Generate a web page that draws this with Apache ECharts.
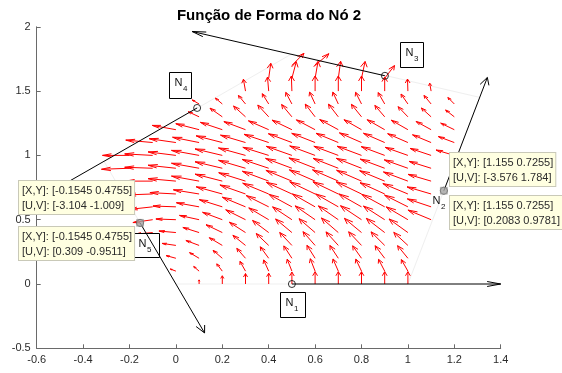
<!DOCTYPE html>
<html>
<head>
<meta charset="utf-8">
<script src="https://cdn.jsdelivr.net/npm/echarts@6/dist/echarts.min.js"></script>
<style>
html,body{margin:0;padding:0;background:#ffffff;}
#chart{width:562px;height:373px;}
</style>
</head>
<body>
<div id="chart"></div>
<script>
// ---------------- data ----------------
const chartTitle = 'Função de Forma do Nó 2';
const xMin = -0.6, xMax = 1.4, xStep = 0.2;
const yMin = -0.5, yMax = 2, yStep = 0.5;

// quiver grid: one entry per row (y value, first x value), spacing 0.1
const gridStep = 0.1;
const rowY  = [0, 0.1, 0.2, 0.3, 0.4, 0.5, 0.6, 0.7, 0.8, 0.9, 1.0, 1.1, 1.2, 1.3, 1.4, 1.5, 1.6, 1.7];
const rowX0 = [0, 0, 0, 0, -0.1, -0.1, -0.1, -0.2, -0.2, -0.2, -0.2, -0.1, 0, 0.1, 0.1, 0.3, 0.4, 0.5];
const quiverU = [
  [0,0,0,0,0,0,0,0,0,0,0],
  [-0.84,-0.80,-0.82,-0.82,-0.75,-0.70,-0.72,-0.79,-0.85,-0.91,-0.97],
  [-1.44,-1.42,-1.37,-1.29,-1.25,-1.20,-1.21,-1.25,-1.31,-1.42,-1.53],
  [-2.06,-1.96,-1.93,-1.87,-1.85,-1.81,-1.79,-1.82,-1.91,-2.03,-2.10],
  [-2.52,-2.52,-2.41,-2.42,-2.39,-2.40,-2.42,-2.39,-2.50,-2.54,-2.73,-2.80],
  [-2.94,-2.97,-2.91,-2.93,-2.94,-2.96,-2.87,-2.96,-2.96,-3.12,-3.15,-3.22,-3.44],
  [-3.40,-3.41,-3.37,-3.41,-3.44,-3.34,-3.41,-3.38,-3.38,-3.38,-3.41,-3.47,-3.53],
  [-3.53,-3.71,-3.86,-3.82,-3.88,-3.80,-3.86,-3.80,-3.77,-3.77,-3.77,-3.67,-3.72,-3.57],
  [-4.00,-4.01,-4.14,-4.10,-4.04,-3.98,-3.91,-3.86,-3.83,-3.83,-3.70,-3.72,-3.63,-3.43],
  [-4.16,-4.16,-4.14,-4.10,-4.05,-4.00,-3.96,-3.91,-3.89,-3.75,-3.75,-3.63,-3.51,-3.27],
  [-4.01,-4.16,-4.13,-4.10,-4.05,-4.02,-3.84,-3.80,-3.77,-3.63,-3.63,-3.49,-3.37,-3.11,-2.71],
  [-4.00,-3.97,-3.94,-3.89,-3.71,-3.67,-3.49,-3.47,-3.31,-3.28,-3.15,-3.01,-2.76,-2.37],
  [-3.51,-3.46,-3.25,-3.21,-3.01,-2.96,-2.78,-2.76,-2.60,-2.60,-2.47,-2.23,-2.02],
  [-1.62,-1.83,-1.77,-1.62,-1.53,-1.46,-1.46,-1.50,-1.46,-1.45,-1.44,-1.29],
  [-1.03,-1.02,-1.05,-0.95,-0.91,-0.82,-0.82,-0.88,-0.97,-1.02,-1.05,-0.95],
  [-0.31,-0.18,-0.08,0,0,0,0,-0.06,-0.21],
  [0.31,0.65,0.44,0.35,0.53,1.46],
  [1.79,2.05]
];
const quiverV = [
  [0,1.1,2.2,2.8,2.9,3.2,3.3,3.3,3.3,3.3,3.3],
  [0.57,1.24,1.95,2.62,3.0,3.19,3.32,3.27,3.22,3.16,3.10],
  [0.71,1.52,2.13,2.66,3.08,3.31,3.47,3.43,3.34,3.36,3.38],
  [0.54,1.32,2.07,2.72,3.19,3.47,3.68,3.63,3.66,3.64,3.50],
  [-0.41,0.41,1.37,2.10,2.77,3.24,3.64,3.72,3.90,3.81,3.81,3.64],
  [-0.77,0.19,1.15,1.98,2.65,3.17,3.45,3.70,3.70,3.75,3.65,3.44,2.58],
  [-0.67,0.22,1.10,1.93,2.58,3.02,3.36,3.47,3.47,3.47,3.36,3.14,2.13],
  [-0.92,-0.24,0.37,1.12,1.93,2.42,2.89,3.14,3.26,3.26,3.26,3.03,2.79,1.90],
  [-0.65,0,0.67,1.34,1.87,2.25,2.64,2.89,3.02,3.02,2.91,2.79,2.45,1.82],
  [-0.27,0.27,0.81,1.34,1.74,2.13,2.38,2.64,2.76,2.66,2.66,2.45,2.25,1.85],
  [0,0.40,0.94,1.34,1.74,2.00,2.17,2.42,2.54,2.45,2.45,2.36,2.16,1.87,1.44],
  [0.65,1.03,1.42,1.80,1.98,2.21,2.36,2.47,2.48,2.59,2.48,2.37,2.07,1.60],
  [1.15,1.60,1.96,2.17,2.37,2.56,2.63,2.71,2.67,2.67,2.54,2.20,1.75],
  [1.37,2.32,2.89,3.16,3.31,3.40,3.40,3.36,3.06,2.72,2.35,1.83],
  [1.08,1.56,2.28,2.75,3.10,3.18,3.18,3.13,3.04,2.65,2.28,1.72],
  [3.19,3.76,4.05,4.05,4.05,4.05,3.78,3.24,2.13],
  [4.01,4.43,4.52,4.54,4.49,3.40],
  [3.25,3.13]
];

// element outline (faint pentagon)
const outlineX = [0, 1, 1.31, 0.5, -0.309, 0];
const outlineY = [0, 0, 1.451, 1.79, 0.951, 0];

// nodes and their edge tangent vectors
const nodeNames = ['1', '2', '3', '4', '5'];
const nodeX = [0.5, 1.155, 0.901, 0.0915, -0.1545];
const nodeY = [0, 0.7255, 1.619, 1.369, 0.4755];
const tangentU = [1, 0.2083, -0.924, -0.6955, 0.309];
const tangentV = [0, 0.9781, 0.383, -0.7187, -0.9511];
const tangentLength = 0.9;

// data tips
const tipNode = [4, 4, 1, 1];
const tipLines = [
  ['[X,Y]: [-0.1545 0.4755]', '[U,V]: [-3.104 -1.009]'],
  ['[X,Y]: [-0.1545 0.4755]', '[U,V]: [0.309 -0.9511]'],
  ['[X,Y]: [1.155 0.7255]', '[U,V]: [-3.576 1.784]'],
  ['[X,Y]: [1.155 0.7255]', '[U,V]: [0.2083 0.9781]']
];

// ---------------- layout / style ----------------
const FONT = '"Liberation Sans", Arial, Helvetica, sans-serif';
const QUIVER_SCALE = 0.029;
const labelLayout = [
  {dx: -12, dy: 8,   w: 25, h: 25, box: true},
  {dx: -17, dy: -1,  w: 25, h: 25, box: false},
  {dx: 15,  dy: -34, w: 23, h: 25, box: true},
  {dx: -28, dy: -36, w: 22, h: 26, box: true},
  {dx: -7,  dy: 10,  w: 26, h: 24, box: true}
];
const TIP_PAD = [2, 2, 1, 3];
const TIP_FONT_SIZE = 11;
const tipLayout = [
  {dx: -6, dy: -9, side: 'right', va: 'bottom'},
  {dx: -6, dy: 4,  side: 'right', va: 'top'},
  {dx: 6,  dy: -5, side: 'left',  va: 'bottom'},
  {dx: 6,  dy: 5,  side: 'left',  va: 'top'}
];

// ---------------- build tables ----------------
const quiverData = [];
rowY.forEach((y, r) => {
  quiverU[r].forEach((u, i) => {
    const x = Math.round((rowX0[r] + i * gridStep) * 100) / 100;
    quiverData.push([x, y, u, quiverV[r][i]]);
  });
});
const nodeData = nodeX.map((x, i) => [x, nodeY[i], i]);
const tangentData = nodeX.map((x, i) => [x, nodeY[i], tangentU[i] * tangentLength, tangentV[i] * tangentLength]);
const outlineData = outlineX.map((x, i) => [x, outlineY[i]]);
const tipData = tipNode.map((n, i) => [nodeX[n], nodeY[n], i]);
const squareData = [1, 4].map(n => [nodeX[n], nodeY[n]]);

const measureCtx = document.createElement('canvas').getContext('2d');
measureCtx.font = TIP_FONT_SIZE + 'px ' + FONT;
const tipWidths = tipLines.map(lines => Math.max.apply(null, lines.map(s => measureCtx.measureText(s).width)));

function arrowParts(api, x, y, du, dv, alpha, beta) {
  const p0 = api.coord([x, y]);
  const p1 = api.coord([x + du, y + dv]);
  const h1 = api.coord([x + du - alpha * (du + beta * dv), y + dv - alpha * (dv - beta * du)]);
  const h2 = api.coord([x + du - alpha * (du - beta * dv), y + dv - alpha * (dv + beta * du)]);
  return {p0, p1, h1, h2};
}

const chart = echarts.init(document.getElementById('chart'), null, {renderer: 'canvas', width: 562, height: 373});
const axisColor = '#6a6a6a';
const labelColor = '#2b2b2b';
const fmt = v => String(Math.round(v * 10) / 10);

chart.setOption({
  animation: false,
  backgroundColor: '#ffffff',
  grid: {left: 36.7, right: 61.3, top: 26.8, bottom: 24.7, containLabel: false},
  graphic: [{
    type: 'text', x: 269, y: 16, z: 10,
    style: {text: chartTitle, fontSize: 15, fontWeight: 'bold', fontFamily: FONT, fill: '#000', align: 'center', verticalAlign: 'middle'}
  }],
  xAxis: {
    type: 'value', min: xMin, max: xMax, interval: xStep,
    axisLine: {show: true, onZero: false, lineStyle: {color: axisColor, width: 1}},
    axisTick: {show: true, inside: true, length: 4, lineStyle: {color: axisColor, width: 1}},
    splitLine: {show: false},
    axisLabel: {formatter: fmt, color: labelColor, fontSize: 11, fontFamily: FONT, margin: 6, showMinLabel: true, showMaxLabel: true}
  },
  yAxis: {
    type: 'value', min: yMin, max: yMax, interval: yStep,
    axisLine: {show: true, onZero: false, lineStyle: {color: axisColor, width: 1}},
    axisTick: {show: true, inside: true, length: 4, lineStyle: {color: axisColor, width: 1}},
    splitLine: {show: false},
    axisLabel: {formatter: fmt, color: labelColor, fontSize: 11, fontFamily: FONT, margin: 6, showMinLabel: true, showMaxLabel: true}
  },
  series: [
    {
      type: 'line', data: outlineData, z: 1, silent: true, symbol: 'none',
      lineStyle: {color: '#efefef', width: 1}
    },
    {
      type: 'custom', data: quiverData, z: 2, silent: true,
      encode: {x: 0, y: 1},
      renderItem: (params, api) => {
        const x = api.value(0), y = api.value(1);
        const du = api.value(2) * QUIVER_SCALE, dv = api.value(3) * QUIVER_SCALE;
        if (du === 0 && dv === 0) return {type: 'group', children: []};
        const a = arrowParts(api, x, y, du, dv, 0.33, 0.33);
        return {type: 'group', children: [
          {type: 'polyline', shape: {points: [a.p0, a.p1]}, style: {stroke: '#ff0000', lineWidth: 1, fill: 'none'}},
          {type: 'polyline', shape: {points: [a.h1, a.p1, a.h2]}, style: {stroke: '#ff0000', lineWidth: 1, fill: 'none'}}
        ]};
      }
    },
    {
      type: 'custom', data: nodeData, z: 3, silent: true,
      encode: {x: 0, y: 1},
      renderItem: (params, api) => {
        const p = api.coord([api.value(0), api.value(1)]);
        const idx = api.value(2);
        const L = labelLayout[idx];
        const bx = Math.round(p[0] + L.dx), by = Math.round(p[1] + L.dy);
        const ch = [];
        if (L.box) ch.push({type: 'rect', shape: {x: bx + 0.5, y: by + 0.5, width: L.w, height: L.h}, style: {fill: '#ffffff', stroke: '#000000', lineWidth: 1}});
        ch.push({type: 'text', x: bx + 5.5, y: by + 10.5, style: {text: 'N', fontSize: 11, fontFamily: FONT, fill: '#111', align: 'left', verticalAlign: 'middle'}});
        ch.push({type: 'text', x: bx + 14, y: by + 17, style: {text: nodeNames[idx], fontSize: 8, fontFamily: FONT, fill: '#111', align: 'left', verticalAlign: 'middle'}});
        return {type: 'group', children: ch};
      }
    },
    {
      type: 'custom', data: tangentData, z: 4, silent: true,
      encode: {x: 0, y: 1},
      renderItem: (params, api) => {
        const a = arrowParts(api, api.value(0), api.value(1), api.value(2), api.value(3), 0.065, 0.33);
        return {type: 'group', children: [
          {type: 'polyline', shape: {points: [a.p0, a.p1]}, style: {stroke: '#000000', lineWidth: 1, fill: 'none'}},
          {type: 'polyline', shape: {points: [a.h1, a.p1, a.h2]}, style: {stroke: '#000000', lineWidth: 1, fill: 'none'}}
        ]};
      }
    },
    {
      type: 'scatter', data: nodeData.map(d => [d[0], d[1]]), z: 5, silent: true,
      symbol: 'circle', symbolSize: 7,
      itemStyle: {color: 'rgba(0,0,0,0)', borderColor: '#000000', borderWidth: 1}
    },
    {
      type: 'scatter', data: squareData, z: 6, silent: true,
      symbol: 'rect', symbolSize: 7,
      itemStyle: {color: '#a3a3a3', borderColor: '#8a8a8a', borderWidth: 0.5}
    },
    {
      type: 'custom', data: tipData, z: 7, silent: true,
      encode: {x: 0, y: 1},
      renderItem: (params, api) => {
        const p = api.coord([api.value(0), api.value(1)]);
        const i = api.value(2);
        const L = tipLayout[i];
        const boxW = tipWidths[i] + TIP_PAD[1] + TIP_PAD[3];
        const x = L.side === 'right' ? Math.round(p[0] + L.dx - boxW) : Math.round(p[0] + L.dx);
        return {
          type: 'text', x: x, y: Math.round(p[1] + L.dy),
          style: {
            text: tipLines[i].join('\n'), fontSize: TIP_FONT_SIZE, fontFamily: FONT, fill: '#2b2b2b',
            align: 'left', verticalAlign: L.va, lineHeight: 15,
            backgroundColor: '#ffffe1', borderColor: '#c9c9b8', borderWidth: 1, padding: TIP_PAD
          }
        };
      }
    }
  ]
});
</script>
</body>
</html>
